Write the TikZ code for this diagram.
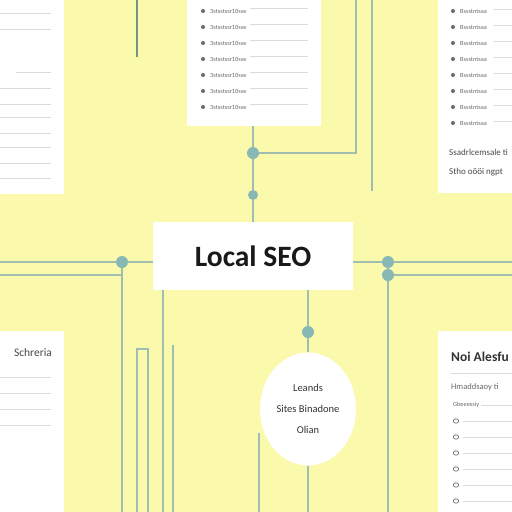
\documentclass[tikz,border=0pt]{standalone}
\usepackage{fontspec}
\setmainfont{Carlito}
\usetikzlibrary{positioning, calc, shapes.geometric}
\definecolor{bgyellow}{RGB}{250,249,172}
\definecolor{wire}{RGB}{160,190,176}
\definecolor{darkwire}{RGB}{118,148,122}
\definecolor{dotteal}{RGB}{136,184,180}
\definecolor{rulegray}{RGB}{218,218,218}
\definecolor{txtgray}{RGB}{105,105,105}

\begin{document}
\begin{tikzpicture}[x=1pt, y=-1pt,
	wireline/.style={draw=wire, line width=1.5pt},
	junction/.style={circle, fill=dotteal, inner sep=0pt, minimum size=12pt},
	panelrule/.style={draw=rulegray, line width=0.8pt},
	tinytext/.style={font=\fontsize{6.3}{7}\selectfont, text=txtgray, inner sep=0pt, anchor=west},
	paneltext/.style={font=\fontsize{9}{11}\selectfont, text=txtgray!70!black, inner sep=0pt, anchor=west},
	bulletdot/.style={circle, fill=txtgray, inner sep=0pt, minimum size=4pt}]
	\useasboundingbox (0,0) rectangle (512,512);
	\fill[bgyellow] (0,0) rectangle (512,512);
	
	\fill[white] (0,0) rectangle (64,194);
	\fill[white] (187,0) rectangle (321,126);
	\fill[white] (438,0) rectangle (512,193);
	\fill[white] (0,331) rectangle (64,512);
	\fill[white] (438,331) rectangle (512,512);
	
	\foreach \y in {13,29,88,104,117,133,147,163,178}
		\draw[panelrule] (0,\y) -- (51,\y);
	\draw[panelrule] (16,72) -- (51,72);
	
	\foreach \y in {11,27,43,59,75,91,107} {
		\node[bulletdot] at (203,\y) {};
		\node[tinytext] at (210,\y) {3stsstssr10sse};
		\draw[panelrule] (250,{\y-3}) -- (308,{\y-3});
	}
	
	\foreach \y in {11,27,43,59,75,91,107,123} {
		\node[bulletdot] at (453,\y) {};
		\node[tinytext] at (460,\y) {Bssstntsaa};
		\draw[panelrule] (494,{\y-2}) -- (512,{\y-2});
	}
	\node[paneltext] (sadr) at (449,152) {Ssadrlcemsale ti};
	\node[paneltext] (stho) at (449,172) {Stho oööi ngpt};
	
	\node[paneltext, anchor=center, font=\fontsize{11.5}{13}\selectfont] (schreria) at (33,353) {Schreria};
	\foreach \y in {377,393,409,425}
		\draw[panelrule] (0,\y) -- (51,\y);
	
	\node[anchor=west, inner sep=0pt, font=\fontsize{13.5}{15}\selectfont\bfseries, text=black!80] (noi) at (451,357) {Noi Alesfu};
	\draw[panelrule] (451,373) -- (512,373);
	\node[tinytext, font=\fontsize{8.5}{10}\selectfont] (hmad) at (451,387) {Hmaddsaoy ti};
	\node[tinytext] at (453,405) {Gbeeessiy};
	\draw[panelrule] (481,405) -- (512,405);
	\foreach \y in {421,437,453,469,485,501} {
		\draw[txtgray, line width=.7pt] (456,\y) ellipse (2.7 and 2.2);
		\draw[panelrule] (463,\y) -- (512,\y);
	}
	
	\node[fill=white, minimum width=200pt, minimum height=68pt, text=black!90, font=\fontsize{29.5}{34}\selectfont\bfseries] (seo) at (253,256) {Local SEO};
	
	\node[junction] (dtop) at (253,153) {};
	\node[junction, minimum size=10pt] (dmid) at (253,195) {};
	\node[junction] (dleft) at (122,262) {};
	\node[junction] (dr1) at (388,262) {};
	\node[junction] (dr2) at (388,275) {};
	\node[junction] (dbot) at (308,332) {};
	\node[ellipse, fill=white, minimum width=96pt, minimum height=113pt, inner sep=0pt, align=center, text=black!80, font=\fontsize{10.5}{21}\selectfont] (bubble) at (308,409) {Leands\\Sites Binadone\\Olian};
	
	\coordinate (ptop) at (253,126);
	\coordinate (tl) at (137,0);
	\coordinate (tlend) at (137,57);
	\coordinate (t1) at (356,0);
	\coordinate (t2) at (372,0);
	\coordinate (t2end) at (372,191);
	\coordinate (lin) at (0,262);
	\coordinate (lout) at (0,275);
	\coordinate (lbot) at (122,512);
	\coordinate (sl) at (163,512);
	\coordinate (sr) at (173,512);
	\coordinate (srtop) at (173,345);
	\coordinate (stub) at (259,433);
	\coordinate (stubend) at (259,512);
	\coordinate (rin1) at (512,262);
	\coordinate (rin2) at (512,275);
	\coordinate (rbot) at (388,512);
	\coordinate (bbot) at (308,512);
	
	\draw[draw=darkwire, line width=1.2pt] (tl) -- (tlend);
	\draw[wireline] (t1) |- (dtop);
	\draw[wireline] (t2) -- (t2end);
	\draw[wireline] (ptop) -- (dtop) -- (dmid) -- (dmid |- seo.north);
	\draw[wireline] (lin) -- (dleft) -- (dleft -| seo.west);
	\draw[wireline] (lout) -| (dleft);
	\draw[wireline] (dleft) -- (lbot);
	\draw[wireline] (seo.south -| sl) -- (sl);
	\draw[wireline] (srtop) -- (sr);
	\draw[wireline] (137,514) |- (148,349) -- (148,514);
	\draw[wireline] (stub) -- (stubend);
	\draw[wireline] (dr1 -| seo.east) -- (dr1) -- (rin1);
	\draw[wireline] (dr2) -- (rin2);
	\draw[wireline] (dr1) -- (dr2) -- (rbot);
	\draw[wireline] (seo.south -| dbot) -- (dbot) -- (bubble);
	\draw[wireline] (bubble.south) -- (bbot);
\end{tikzpicture}
\end{document}
